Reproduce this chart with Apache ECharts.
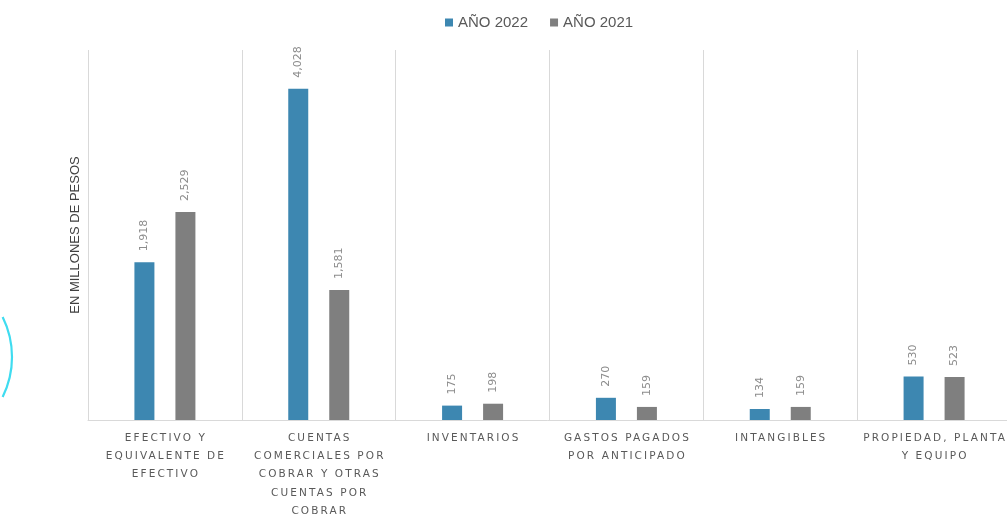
<!DOCTYPE html>
<html><head><meta charset="utf-8">
<script src="https://cdn.jsdelivr.net/npm/echarts@6/dist/echarts.min.js"></script>
<style>html,body{margin:0;padding:0;background:#fff;overflow:hidden}#c{width:1007px;height:517px}</style>
</head><body><div id="c"></div>
<script>
var categories = ["EFECTIVO Y\nEQUIVALENTE DE\nEFECTIVO", "CUENTAS\nCOMERCIALES POR\nCOBRAR Y OTRAS\nCUENTAS POR\nCOBRAR", "INVENTARIOS", "GASTOS PAGADOS\nPOR ANTICIPADO", "INTANGIBLES", "PROPIEDAD, PLANTA\nY EQUIPO"];
var seriesNames = ["AÑO 2022", "AÑO 2021"];
var values2022 = [1918, 4028, 175, 270, 134, 530];
var values2021 = [2529, 1581, 198, 159, 159, 523];
var yAxisName = "EN MILLONES DE PESOS";

// wide letter spacing for the category labels only (as in the reference)
(function () {
  var proto = CanvasRenderingContext2D.prototype;
  var orig = proto.fillText;
  proto.fillText = function (t, x, y, w) {
    var f = this.font || '';
    var spaced = f.indexOf('10.5px') >= 0;
    if ('letterSpacing' in this) {
      var want = spaced ? '2.1px' : '0px';
      if (this.letterSpacing !== want) { this.letterSpacing = want; this.font = f; }
    }
    if (spaced) x += 1;
    return w === undefined ? orig.call(this, t, x, y) : orig.call(this, t, x, y, w);
  };
})();

var chart = echarts.init(document.getElementById('c'));
var fmt = function (p) { return p.value.toLocaleString('en-US'); };
var lbl = {
  show: true, position: 'top', rotate: 90, align: 'left', verticalAlign: 'middle',
  distance: 11, color: '#8c8c8c', fontSize: 11, fontFamily: 'DejaVu Sans', formatter: fmt
};
chart.setOption({
  animation: false,
  legend: {
    top: 10, left: 440, itemWidth: 8, itemHeight: 8, itemGap: 22, icon: 'rect',
    textStyle: { color: '#595959', fontSize: 15, fontFamily: 'Liberation Sans' },
    data: seriesNames
  },
  grid: { left: 88, width: 923, top: 50, height: 370, containLabel: false, outerBoundsMode: 'none' },
  xAxis: {
    type: 'category', data: categories,
    axisLine: { show: true, lineStyle: { color: '#d9d9d9' } },
    axisTick: { show: false },
    splitLine: { show: true, lineStyle: { color: '#d9d9d9' } },
    axisLabel: {
      interval: 0, margin: 9, color: '#595959', fontSize: 10.5, lineHeight: 18.3,
      fontFamily: 'DejaVu Sans', verticalAlign: 'top'
    }
  },
  yAxis: {
    type: 'value', min: 0, max: 4500,
    name: yAxisName, nameLocation: 'middle', nameGap: 6.5, nameRotate: 90,
    nameTextStyle: { color: '#404040', fontSize: 13, fontFamily: 'Liberation Sans' },
    axisLine: { show: false }, axisTick: { show: false }, axisLabel: { show: false },
    splitLine: { show: false }
  },
  series: [
    { name: seriesNames[0], type: 'bar', data: values2022, barWidth: 20, barGap: '105%',
      itemStyle: { color: '#3d87b1' }, label: lbl },
    { name: seriesNames[1], type: 'bar', data: values2021, barWidth: 20,
      itemStyle: { color: '#7f7f7f' }, label: lbl }
  ],
  graphic: [{
    type: 'arc', silent: true,
    shape: { cx: -78, cy: 357, r: 90, startAngle: -0.46, endAngle: 0.46 },
    style: { stroke: '#3fdcf0', lineWidth: 2.2, fill: null }
  }]
});
</script></body></html>
